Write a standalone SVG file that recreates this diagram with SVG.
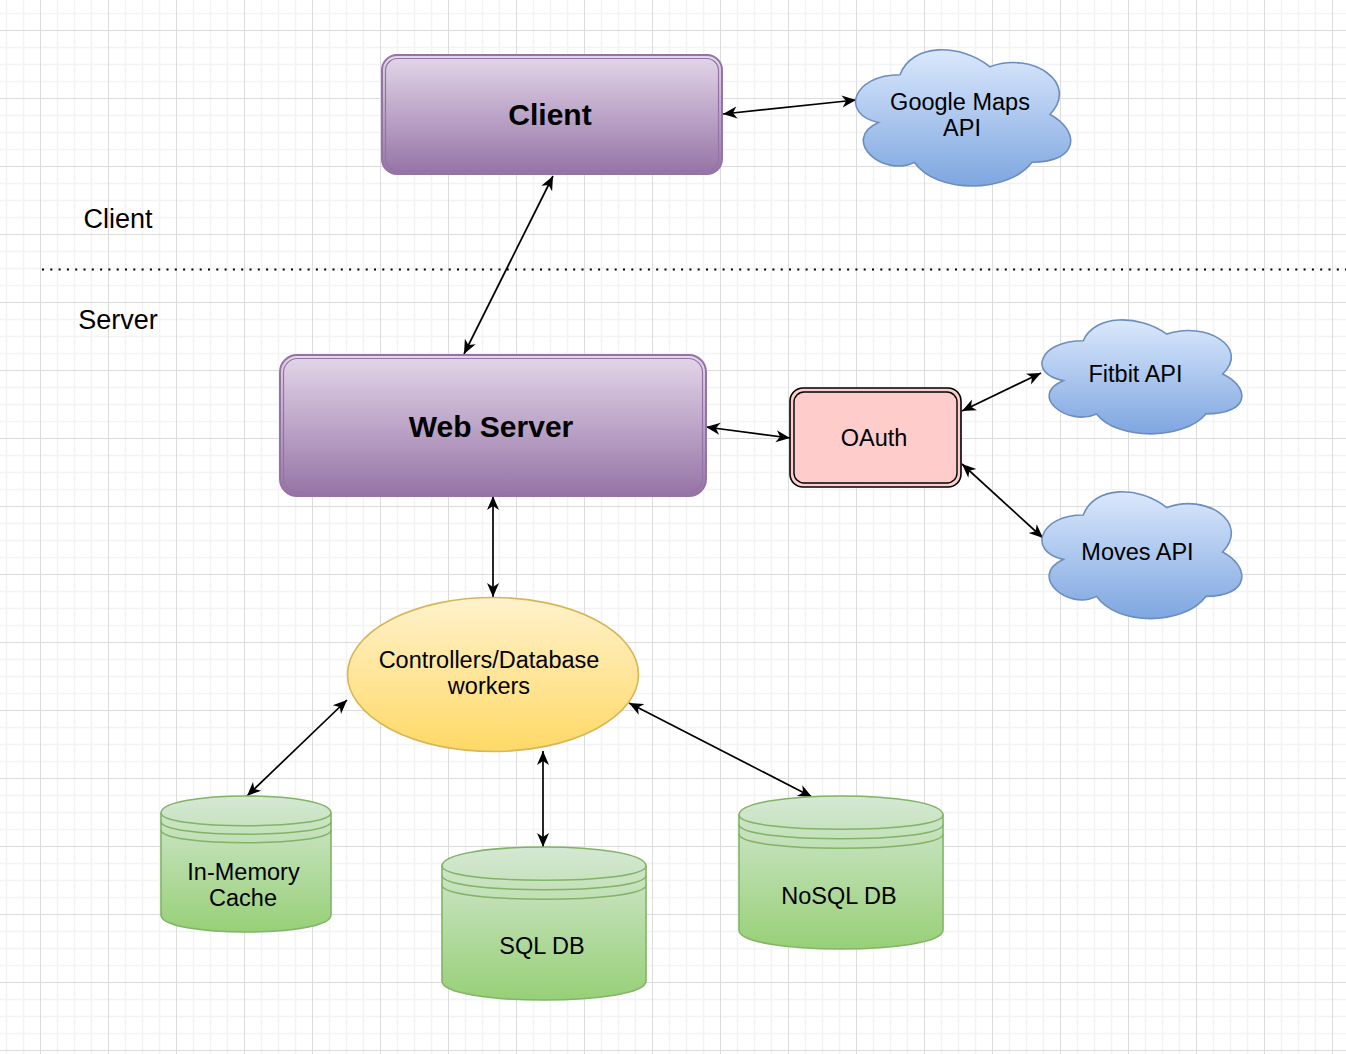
<svg xmlns="http://www.w3.org/2000/svg" width="1346" height="1054" viewBox="0 0 1346 1054">
<style>
.t{font-family:"Liberation Sans",Arial,sans-serif;fill:#000;text-anchor:middle}
.n{font-size:23.5px}
.b{font-size:30px;font-weight:bold}
.l{font-size:27px}
.conn{stroke:#000;stroke-width:1.7;fill:none;marker-start:url(#ah);marker-end:url(#ah)}
.cyl{fill:url(#gGreen);stroke:#82b366;stroke-width:1.6}
.cyl-l{fill:none;stroke:#82b366;stroke-width:1.6}
.cloud{fill:url(#gBlue);stroke:#6c8ebf;stroke-width:1.6}
</style>
<defs>
<pattern id="grid" patternUnits="userSpaceOnUse" x="40" y="30" width="68" height="68">
<path d="M17.5,0V68M34.5,0V68M51.5,0V68M0,17.5H68M0,34.5H68M0,51.5H68" stroke="#f3f3f3" stroke-width="1.6"/>
<path d="M0.5,0V68M0,0.5H68" stroke="#dcdcdc" stroke-width="1"/>
</pattern>
<linearGradient id="gPurple" x1="0" y1="0" x2="0" y2="1"><stop offset="0" stop-color="#e3d7e9"/><stop offset="1" stop-color="#9673a6"/></linearGradient>
<linearGradient id="gBlue" x1="0" y1="0" x2="0" y2="1"><stop offset="0" stop-color="#dae8fc"/><stop offset="1" stop-color="#7ea6e0"/></linearGradient>
<linearGradient id="gYellow" x1="0" y1="0" x2="0" y2="1"><stop offset="0" stop-color="#fff2cc"/><stop offset="1" stop-color="#ffd966"/></linearGradient>
<linearGradient id="gGreen" x1="0" y1="0" x2="0" y2="1"><stop offset="0" stop-color="#d5e8d4"/><stop offset="1" stop-color="#97d077"/></linearGradient>
<marker id="ah" markerUnits="userSpaceOnUse" markerWidth="16" markerHeight="14" refX="14" refY="7" orient="auto-start-reverse">
<path d="M0,1 L14,7 L0,13 L4,7 Z" fill="#000"/>
</marker>
</defs>
<rect width="1346" height="1054" fill="#fff"/>
<rect width="1346" height="1054" fill="url(#grid)"/>

<g id="divider">
<line x1="42" y1="269.5" x2="1346" y2="269.5" stroke="#000" stroke-width="2" stroke-dasharray="2 6.3"/>
<text class="t l" x="118" y="228">Client</text>
<text class="t l" x="118" y="329">Server</text>
</g>

<g id="connectors">
<line class="conn" x1="723" y1="114" x2="856" y2="100"/>
<line class="conn" x1="553" y1="176" x2="464" y2="354"/>
<line class="conn" x1="706" y1="427" x2="790" y2="438"/>
<line class="conn" x1="962" y1="411" x2="1041" y2="373"/>
<line class="conn" x1="962" y1="464" x2="1043" y2="538"/>
<line class="conn" x1="493" y1="496" x2="493" y2="597"/>
<line class="conn" x1="347" y1="700" x2="247" y2="796"/>
<line class="conn" x1="543" y1="751" x2="543" y2="847"/>
<line class="conn" x1="629" y1="703" x2="812" y2="797"/>
</g>

<g id="client">
<rect x="382" y="55" width="340" height="119" rx="15" fill="url(#gPurple)" stroke="#9673a6" stroke-width="2"/>
<rect x="385.5" y="58.5" width="333" height="112" rx="12" fill="none" stroke="#9673a6" stroke-width="1.2"/>
<text class="t b" x="550" y="125">Client</text>
</g>

<g id="google-maps">
<path class="cloud" d="M900,74.75 C852,74.75 840,114.5 878.4,122.45 C840,139.94 883.2,178.1 914.4,162.2 C936,194 1008,194 1032,162.2 C1080,162.2 1080,130.4 1050,114.5 C1080,82.7 1032,50.9 990,66.8 C960,42.95 912,42.95 900,74.75 Z"/>
<text class="t n" x="960" y="110">Google Maps</text>
<text class="t n" x="962" y="136">API</text>
</g>

<g id="web-server">
<rect x="280" y="355" width="426" height="141" rx="17" fill="url(#gPurple)" stroke="#9673a6" stroke-width="2"/>
<rect x="283.5" y="358.5" width="419" height="134" rx="14" fill="none" stroke="#9673a6" stroke-width="1.2"/>
<text class="t b" x="491" y="437">Web Server</text>
</g>

<g id="oauth">
<rect x="790" y="388" width="171" height="99" rx="13" fill="#ffcccc" stroke="#000" stroke-width="1.6"/>
<rect x="794" y="392" width="163" height="91" rx="10" fill="none" stroke="#000" stroke-width="1.4"/>
<text class="t n" x="874" y="446">OAuth</text>
</g>

<g id="fitbit-api">
<path class="cloud" d="M1083.25,340.75 C1038.65,340.75 1027.5,374 1063.18,380.65 C1027.5,395.28 1067.64,427.2 1096.63,413.9 C1116.7,440.5 1183.6,440.5 1205.9,413.9 C1250.5,413.9 1250.5,387.3 1222.63,374 C1250.5,347.4 1205.9,320.8 1166.88,334.1 C1139,314.15 1094.4,314.15 1083.25,340.75 Z"/>
<text class="t n" x="1135.5" y="382">Fitbit API</text>
</g>

<g id="moves-api">
<path class="cloud" d="M1083.25,515 C1038.65,515 1027.5,552 1063.18,559.4 C1027.5,575.68 1067.64,611.2 1096.63,596.4 C1116.7,626 1183.6,626 1205.9,596.4 C1250.5,596.4 1250.5,566.8 1222.63,552 C1250.5,522.4 1205.9,492.8 1166.88,507.6 C1139,485.4 1094.4,485.4 1083.25,515 Z"/>
<text class="t n" x="1137.5" y="559.5">Moves API</text>
</g>

<g id="controllers">
<ellipse cx="493" cy="674.5" rx="145.5" ry="77" fill="url(#gYellow)" stroke="#d6b656" stroke-width="1.6"/>
<text class="t n" x="489" y="667.5">Controllers/Database</text>
<text class="t n" x="489" y="693.5">workers</text>
</g>

<g id="in-memory-cache">
<path class="cyl" d="M161,813 C161,790.33 331,790.33 331,813 L331,915 C331,937.67 161,937.67 161,915 Z"/>
<path class="cyl-l" d="M161,813 C161,830 331,830 331,813 M161,821.5 C161,838.5 331,838.5 331,821.5 M161,830 C161,847 331,847 331,830"/>
<text class="t n" x="243.5" y="880">In-Memory</text>
<text class="t n" x="243" y="906">Cache</text>
</g>

<g id="sql-db">
<path class="cyl" d="M442,866 C442,840.67 646,840.67 646,866 L646,981 C646,1006.33 442,1006.33 442,981 Z"/>
<path class="cyl-l" d="M442,866 C442,885 646,885 646,866 M442,875.5 C442,894.5 646,894.5 646,875.5 M442,885 C442,904 646,904 646,885"/>
<text class="t n" x="542" y="953.5">SQL DB</text>
</g>

<g id="nosql-db">
<path class="cyl" d="M739,815 C739,789.67 943,789.67 943,815 L943,930 C943,955.33 739,955.33 739,930 Z"/>
<path class="cyl-l" d="M739,815 C739,834 943,834 943,815 M739,824.5 C739,843.5 943,843.5 943,824.5 M739,834 C739,853 943,853 943,834"/>
<text class="t n" x="839" y="903.5">NoSQL DB</text>
</g>
</svg>
